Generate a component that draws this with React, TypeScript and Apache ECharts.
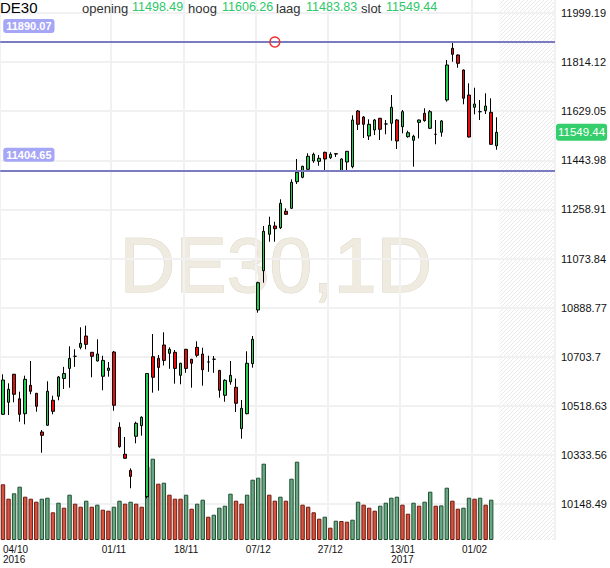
import React, { useEffect, useRef } from 'react';
import * as echarts from 'echarts';

const symbolName = 'DE30';
const timeframe = '1D';

const dates = [
  '04/10/2016','05/10/2016','06/10/2016','07/10/2016','10/10/2016','11/10/2016','12/10/2016','13/10/2016','14/10/2016','17/10/2016',
  '18/10/2016','19/10/2016','20/10/2016','21/10/2016','24/10/2016','25/10/2016','26/10/2016','27/10/2016','28/10/2016','31/10/2016',
  '01/11/2016','02/11/2016','03/11/2016','04/11/2016','07/11/2016','08/11/2016','09/11/2016','10/11/2016','11/11/2016','14/11/2016',
  '15/11/2016','16/11/2016','17/11/2016','18/11/2016','21/11/2016','22/11/2016','23/11/2016','24/11/2016','25/11/2016','28/11/2016',
  '29/11/2016','30/11/2016','01/12/2016','02/12/2016','05/12/2016','06/12/2016','07/12/2016','08/12/2016','09/12/2016','12/12/2016',
  '13/12/2016','14/12/2016','15/12/2016','16/12/2016','19/12/2016','20/12/2016','21/12/2016','22/12/2016','23/12/2016','27/12/2016',
  '28/12/2016','29/12/2016','30/12/2016','02/01/2017','03/01/2017','04/01/2017','05/01/2017','06/01/2017','09/01/2017','10/01/2017',
  '11/01/2017','12/01/2017','13/01/2017','16/01/2017','17/01/2017','18/01/2017','19/01/2017','20/01/2017','23/01/2017','24/01/2017',
  '25/01/2017','26/01/2017','27/01/2017','30/01/2017','31/01/2017','01/02/2017','02/02/2017','03/02/2017','06/02/2017','07/02/2017',
];
const futureSlots = ['+1','+2','+3','+4','+5','+6','+7','+8','+9','+10'];

const opens = [
  10486.6,10531.9,10637.4,10545.1,10488.9,10595.9,10565.8,10419.9,10445.2,10539.4,
  10554.5,10621.6,10659.6,10705.2,10739.0,10781.7,10720.3,10687.5,10629.9,10652.1,
  10721.4,10437.6,10335.9,10275.2,10403.7,10443.7,10176.0,10703.7,10697.3,10747.8,
  10716.5,10720.3,10633.6,10731.6,10694.1,10739.0,10713.9,10683.7,10694.1,10652.1,
  10558.2,10609.1,10588.4,10432.7,10488.9,10677.4,10879.8,11027.9,11165.1,11196.4,
  11189.7,11251.8,11263.1,11363.4,11379.9,11410.1,11441.4,11440.2,11474.1,11453.8,
  11469.0,11404.8,11437.6,11419.9,11629.8,11607.2,11535.6,11558.2,11602.2,11580.9,
  11583.5,11595.9,11570.6,11532.9,11519.4,11587.2,11621.1,11564.6,11541.9,11549.6,
  11671.3,11866.2,11840.9,11784.4,11690.1,11643.8,11627.2,11631.0,11624.9,11498.49,
];
const closes = [
  10615.9,10580.9,10562.0,10486.6,10618.5,10573.3,10516.8,10407.5,10573.3,10497.9,
  10627.2,10640.4,10697.3,10705.2,10754.0,10750.2,10705.2,10713.9,10689.8,10660.8,
  10520.6,10364.5,10320.8,10252.6,10452.7,10475.4,10640.4,10626.1,10663.4,10689.8,
  10731.6,10659.6,10678.9,10659.6,10678.9,10709.0,10654.7,10683.7,10694.1,10577.1,
  10614.8,10633.6,10528.1,10509.2,10678.9,10769.3,10982.7,11176.4,11199.0,11186.2,
  11281.9,11240.5,11361.1,11398.8,11421.4,11459.1,11466.6,11451.5,11448.9,11466.6,
  11467.5,11448.9,11477.9,11595.9,11579.7,11579.7,11579.7,11595.9,11560.8,11580.9,
  11643.8,11516.7,11627.2,11548.0,11534.5,11595.9,11593.3,11627.2,11541.9,11592.2,
  11803.2,11843.5,11809.6,11677.7,11531.7,11656.2,11627.2,11648.7,11504.3,11549.44,
];
const lows = [
  10484.0,10484.0,10531.9,10458.7,10448.9,10562.0,10496.4,10341.9,10443.0,10486.6,
  10539.4,10582.0,10586.9,10665.3,10731.6,10731.6,10626.1,10686.0,10577.1,10628.4,
  10500.1,10360.7,10319.0,10207.7,10377.3,10406.0,10170.0,10568.1,10575.6,10670.6,
  10658.1,10602.0,10599.7,10643.0,10586.9,10701.4,10594.5,10646.8,10643.0,10549.2,
  10534.1,10598.2,10495.3,10394.7,10486.6,10662.3,10869.6,10982.7,11137.2,11137.2,
  11184.8,11237.9,11260.4,11354.7,11376.2,11404.8,11434.6,11423.6,11407.4,11448.9,
  11456.4,11401.0,11404.8,11413.9,11558.2,11528.0,11520.5,11539.3,11520.5,11541.9,
  11517.9,11486.6,11545.7,11529.2,11419.9,11526.5,11589.5,11562.0,11504.3,11532.9,
  11664.9,11815.6,11792.8,11655.1,11530.0,11617.4,11595.9,11618.5,11503.0,11483.83,
];
const highs = [
  10637.4,10603.5,10639.0,10571.8,10632.1,10687.5,10567.0,10427.4,10611.0,10556.7,
  10631.0,10665.3,10742.9,10731.6,10814.5,10820.6,10721.0,10769.3,10707.5,10683.7,
  10725.2,10456.5,10401.1,10282.7,10458.7,10479.1,10642.0,10789.3,10710.1,10795.7,
  10739.0,10729.0,10680.5,10733.0,10695.5,10761.8,10737.5,10707.5,10706.3,10654.0,
  10618.5,10687.5,10621.6,10540.5,10724.1,10781.7,10986.4,11196.4,11231.4,11212.6,
  11297.0,11263.1,11372.4,11448.9,11423.6,11470.4,11472.6,11464.0,11476.4,11474.1,
  11471.5,11451.5,11479.0,11613.6,11633.6,11610.9,11598.5,11599.6,11604.0,11595.9,
  11690.1,11599.6,11633.6,11555.5,11540.0,11597.5,11640.0,11633.6,11595.9,11595.9,
  11822.1,11890.07,11843.0,11786.0,11734.2,11717.6,11671.3,11696.5,11677.7,11606.26,
];
// volume, thousands of contracts
const volumes = [
  55.7,41.3,46.7,53.3,43.3,41.3,38.3,41.3,42.3,27.7,
  37.3,32.3,45.3,36.3,33.3,39.3,33.3,35.3,30.3,29.3,
  33.3,39.3,36.3,38.3,36.3,33.3,73.3,81.3,56.3,57.3,
  45.3,41.3,41.3,45.3,31.3,36.3,40.3,23.3,25.3,32.3,
  34.3,46.3,39.3,36.3,45.3,60.3,62.3,76.3,45.3,39.3,
  43.3,39.3,61.3,78.3,35.3,33.3,27.7,21.3,23.3,12.3,
  19.3,19.0,18.3,20.3,38.3,35.3,32.3,29.3,34.3,37.3,
  42.3,43.3,35.3,26.3,37.3,34.3,38.3,48.3,34.3,34.6,
  52.3,39.3,31.3,32.3,42.3,41.3,42.3,35.3,40.3,null,
];

const priceTicks = [10148.49,10333.56,10518.63,10703.7,10888.77,11073.84,11258.91,11443.98,11629.05,11814.12,11999.19];
const priceMin = 10012.8;
const priceMax = 12048.2;
const volumeMax = 540;
const levelLines = [11890.07, 11404.65];
const markerIndex = 49;
const tickDates = ['04/10/2016','01/11/2016','18/11/2016','07/12/2016','27/12/2016','13/01/2017','01/02/2017'];
const tickLabels = ['04/10\n2016','01/11','18/11','07/12','27/12','13/01\n2017','01/02'];
const headerNames = ['opening','hoog','laag','slot'];

const FONT = '"Liberation Sans", Arial, sans-serif';

export default function App() {
  const ref = useRef<HTMLDivElement>(null);
  useEffect(() => {
    const chart = echarts.init(ref.current!, null, { renderer: 'svg' });
    const last = opens.length - 1;
    const categories = dates.concat(futureSlots);
    const candleData = opens.map((o, i) => [o, closes[i], lows[i], highs[i]]);
    const volData = volumes.map((v, i) => {
      if (v == null) return null;
      const prev = i > 0 ? volumes[i - 1] : null;
      const up = prev != null && v > prev;
      return {
        value: v,
        itemStyle: up
          ? { color: '#69a784', borderColor: '#1f5030' }
          : { color: '#d6533f', borderColor: '#6e1c12' },
      };
    });
    const isTick = (i: number) => tickDates.indexOf(categories[i]) >= 0;

    chart.setOption({
      animation: false,
      backgroundColor: '#ffffff',
      grid: { left: 0, right: 55, top: 0, bottom: 28 },
      xAxis: {
        type: 'category',
        data: categories,
        boundaryGap: true,
        axisLine: { show: false },
        axisTick: { show: false },
        axisLabel: {
          interval: (i: number) => isTick(i),
          formatter: (v: string) => {
            const k = tickDates.indexOf(v);
            return k >= 0 ? tickLabels[k] : '';
          },
          fontSize: 10,
          color: '#111',
          fontFamily: FONT,
          margin: 4,
          lineHeight: 10,
          alignMinLabel: 'left',
          hideOverlap: false,
        },
        splitLine: { show: true, interval: (i: number) => isTick(i), lineStyle: { color: '#f1f1f1', width: 2 } },
      },
      yAxis: [
        {
          type: 'value',
          position: 'right',
          min: priceMin,
          max: priceMax,
          axisLine: { show: false },
          axisTick: { show: false, customValues: priceTicks },
          axisLabel: {
            customValues: priceTicks,
            formatter: (v: number) => String(v),
            fontSize: 11,
            color: '#111',
            fontFamily: FONT,
            margin: 6,
          },
          splitLine: { show: true, lineStyle: { color: '#f1f1f1', width: 2 } },
        },
        { type: 'value', min: 0, max: volumeMax, show: false, splitLine: { show: false } },
      ],
      series: [
        {
          type: 'bar',
          name: 'volume',
          xAxisIndex: 0,
          yAxisIndex: 1,
          data: volData,
          barWidth: 4.4,
          itemStyle: { borderWidth: 1 },
          z: 2,
        },
        {
          type: 'candlestick',
          name: symbolName,
          xAxisIndex: 0,
          yAxisIndex: 0,
          data: candleData,
          barWidth: 3,
          clip: false,
          z: 4,
          itemStyle: {
            color: '#22cc4e',
            color0: '#ea0b0b',
            borderColor: '#000',
            borderColor0: '#000',
            borderColorDoji: '#000',
            borderWidth: 1,
          },
          markLine: {
            silent: true,
            symbol: ['none', 'none'],
            animation: false,
            data: [
              ...levelLines.map((v) => ({
                yAxis: v,
                lineStyle: { color: '#7b7bc2', width: 2, type: 'solid' },
                label: {
                  show: true,
                  position: 'insideStartTop',
                  formatter: v.toFixed(2),
                  color: '#fff',
                  backgroundColor: '#a6a6f7',
                  borderRadius: 3,
                  padding: [2, 3, 1, 3],
                  fontSize: 11,
                  fontWeight: 'bold',
                  fontFamily: FONT,
                  distance: [3, 9],
                },
              })),
              {
                yAxis: closes[last],
                lineStyle: { color: 'rgba(0,0,0,0)', width: 1, type: 'solid' },
                label: {
                  show: true,
                  position: 'end',
                  formatter: closes[last].toFixed(2),
                  color: '#fff',
                  backgroundColor: '#34cf6c',
                  borderRadius: 3,
                  padding: [3, 2, 2, 2],
                  fontSize: 11.5,
                  fontFamily: FONT,
                  distance: 1,
                },
              },
            ],
          },
          markPoint: {
            silent: true,
            animation: false,
            data: [
              {
                coord: [categories[markerIndex], levelLines[0]],
                symbol: 'circle',
                symbolSize: 10,
                itemStyle: { color: 'rgba(255,255,255,0)', borderColor: '#ee3333', borderWidth: 1.5 },
                label: { show: false },
              },
            ],
          },
        },
      ],
    });

    // hatched "future" zone, placed through the axis scales
    const px = (c: string) => chart.convertToPixel({ xAxisIndex: 0 }, c) as number;
    const band = px(categories[1]) - px(categories[0]);
    const hx0 = px(categories[last + 1]) - band / 2;
    const hx1 = px(categories[categories.length - 1]) + band / 2;
    const hy0 = chart.convertToPixel({ yAxisIndex: 0 }, priceMax) as number;
    const hy1 = chart.convertToPixel({ yAxisIndex: 0 }, priceMin) as number;

    const cv = document.createElement('canvas');
    cv.width = 4;
    cv.height = 4;
    const ctx = cv.getContext('2d')!;
    ctx.fillStyle = '#ffffff';
    ctx.fillRect(0, 0, 4, 4);
    ctx.strokeStyle = '#e9e9e9';
    ctx.lineWidth = 1;
    ctx.beginPath();
    ctx.moveTo(0, 4); ctx.lineTo(4, 0);
    ctx.moveTo(-1, 1); ctx.lineTo(1, -1);
    ctx.moveTo(3, 5); ctx.lineTo(5, 3);
    ctx.stroke();
    const patternUrl = cv.toDataURL();

    const headerVals = [opens[last], highs[last], lows[last], closes[last]];
    const headerNameX = [82, 188, 276, 361];
    const headerValX = [132, 222, 306, 386];
    const header: any[] = [];
    headerNames.forEach((n, i) => {
      header.push({
        type: 'text', z: 10, x: headerNameX[i], y: 8.5,
        style: { text: n, fill: '#333', font: `13px ${FONT}`, verticalAlign: 'middle' },
      });
      header.push({
        type: 'text', z: 10, x: headerValX[i], y: 6.5,
        style: { text: headerVals[i].toFixed(2), fill: '#2dc86a', font: `12.5px ${FONT}`, verticalAlign: 'middle' },
      });
    });

    chart.setOption({
      graphic: [
        {
          type: 'rect', id: 'hatch', z: -10, silent: true,
          shape: { x: hx0, y: hy0, width: hx1 - hx0, height: hy1 - hy0 },
          style: { fill: { image: patternUrl, repeat: 'repeat', imageWidth: 4, imageHeight: 4 } as any },
        },
        {
          type: 'text', id: 'wm', z: -5, silent: true, x: 276, y: 265,
          style: {
            text: `${symbolName},${timeframe}`,
            font: `77px ${FONT}`,
            fill: '#efebe1',
            stroke: '#dcd5c3',
            lineWidth: 1,
            align: 'center',
            verticalAlign: 'middle',
          },
        },
        {
          type: 'text', id: 'sym', z: 10, x: 0, y: 7.5,
          style: { text: symbolName, fill: '#000', font: `15px ${FONT}`, verticalAlign: 'middle' },
        },
        ...header,
      ],
    });

    return () => chart.dispose();
  }, []);
  return (
    <div
      ref={ref}
      style={{ position: 'absolute', left: 0, top: 0, width: 610, height: 568, background: '#fff' }}
    />
  );
}
